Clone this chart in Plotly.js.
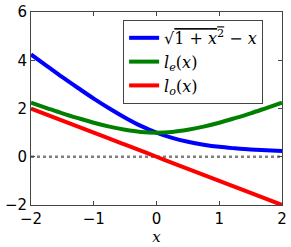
<!DOCTYPE html>
<html><head><meta charset="utf-8">
<script src="https://cdn.plot.ly/plotly-3.0.1.min.js"></script>
<style>html,body{margin:0;padding:0;background:#fff}#c{width:291px;height:247px}</style>
</head><body><div id="c"></div>
<script>
var xs = [-2,-1.75,-1.5,-1.25,-1,-0.75,-0.5,-0.25,0,0.25,0.5,0.75,1,1.25,1.5,1.75,2];
var blueVals = [4.24,3.77,3.30,2.85,2.41,2.00,1.62,1.28,1.00,0.78,0.62,0.50,0.41,0.35,0.30,0.27,0.24];
var greenVals = [2.24,2.02,1.80,1.60,1.41,1.25,1.12,1.03,1.00,1.03,1.12,1.25,1.41,1.60,1.80,2.02,2.24];
var redVals = [2,1.75,1.5,1.25,1,0.75,0.5,0.25,0,-0.25,-0.5,-0.75,-1,-1.25,-1.5,-1.75,-2];
var zeroX = [-2, 2];
var zeroY = [0, 0];
var names = ["√<span style='text-decoration:overline'>1 + <i>x</i><sup>2</sup></span> − <i>x</i>",
             "<i>l<sub>e</sub></i>(<i>x</i>)",
             "<i>l<sub>o</sub></i>(<i>x</i>)"];
var xTicks = [-2,-1,0,1,2];
var yTicks = [-2,0,2,4,6];

var traces = [
  {x: zeroX, y: zeroY, mode:'lines', line:{color:'#808080', width:2.5, dash:'3px,3px'}, showlegend:false, hoverinfo:'skip'},
  {x: xs, y: blueVals, mode:'lines', name:names[0], line:{color:'#0000ff', width:4, shape:'spline'}},
  {x: xs, y: greenVals, mode:'lines', name:names[1], line:{color:'#008000', width:4, shape:'spline'}},
  {x: xs, y: redVals, mode:'lines', name:names[2], line:{color:'#ff0000', width:4, shape:'spline'}}
];
var axisCommon = {showgrid:false, zeroline:false, showline:true, mirror:'ticks', linecolor:'#444', linewidth:1,
  ticks:'inside', ticklen:4, tickcolor:'#444', tickfont:{family:'DejaVu Sans', size:15, color:'#000'}};
var layout = {
  width:291, height:247,
  margin:{l:31, r:9, t:12, b:42},
  paper_bgcolor:'#fff', plot_bgcolor:'#fff',
  xaxis: Object.assign({}, axisCommon, {range:[-2,2], tickvals:xTicks, ticktext:xTicks.map(function(v){return v<0?'−'+(-v):String(v);}),
    title:{text:'<i>x</i>', font:{family:'DejaVu Serif', size:15, color:'#000'}, standoff:4}}),
  yaxis: Object.assign({}, axisCommon, {range:[-2,6], tickvals:yTicks, ticktext:yTicks.map(function(v){return v<0?'−'+(-v):String(v);})}),
  legend:{x:0.367, y:0.959, xanchor:'left', yanchor:'top', bgcolor:'#fff', bordercolor:'#444', borderwidth:1,
    font:{family:'DejaVu Serif', size:16, color:'#000'}},
  showlegend:true
};
Plotly.newPlot('c', traces, layout, {staticPlot:true, displayModeBar:false});
</script></body></html>
